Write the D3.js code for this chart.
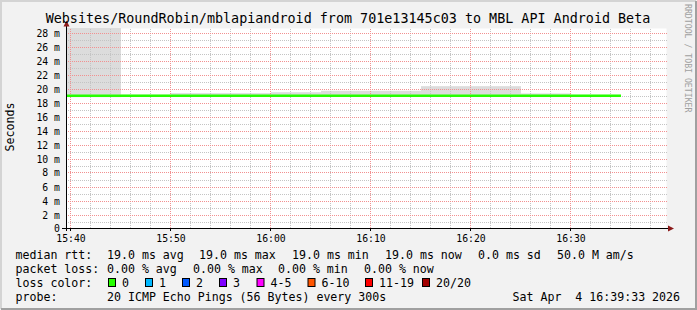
<!DOCTYPE html>
<html>
<head>
<meta charset="utf-8">
<script src="https://cdn.jsdelivr.net/npm/d3@7"></script>
<style>
    html, body { margin: 0; padding: 0; background: #f2f2f2; }
    svg { display: block; }
    text { font-family: "DejaVu Sans Mono", monospace; fill: #000; white-space: pre; }
</style>
</head>
<body>
<svg id="chart" width="697" height="310"></svg>
<script>
// 5 minute samples, each value covers the 5 minutes ending at that time
const stepEnds   = ['15:40', '15:45', '15:50', '15:55', '16:00', '16:05', '16:10', '16:15', '16:20', '16:25', '16:30', '16:35'];
const medianRtt  = [19.0, 19.0, 19.0, 19.0, 19.0, 19.0, 19.0, 19.0, 19.0, 19.0, 19.0, 19.0];
const smokeLow   = [18.76, 18.76, 18.88, 18.92, 18.92, 18.92, 18.92, 18.92, 18.92, 18.92, 18.78, 18.78];
const smokeHigh  = [29.0, 29.0, 19.12, 19.33, 19.33, 19.47, 19.67, 19.67, 20.33, 20.33, 19.29, 19.1];

const yTicks = [0, 2, 4, 6, 8, 10, 12, 14, 16, 18, 20, 22, 24, 26, 28];
const xTicks = ['15:40', '15:50', '16:00', '16:10', '16:20', '16:30'];

const lossLabels = ['0', '1', '2', '3', '4-5', '6-10', '11-19', '20/20'];
const lossColors = ['#26ff00', '#00b8ff', '#0059ff', '#7e00ff', '#ff00ff', '#ff5500', '#ff0000', '#a10000'];

const rttStats  = ['19.0 ms avg', '19.0 ms max', '19.0 ms min', '19.0 ms now', '0.0 ms sd', '50.0 M am/s'];
const lossStats = ['0.00 % avg', '0.00 % max', '0.00 % min', '0.00 % now'];

const title = 'Websites/RoundRobin/mblapiandroid from 701e13145c03 to MBL API Android Beta';
const probeText = '20 ICMP Echo Pings (56 Bytes) every 300s';
const dateText = 'Sat Apr  4 16:39:33 2026';

const W = 697, H = 310;
const plot = { left: 66.5, right: 666.5, top: 28.5, bottom: 228.5 };

const svg = d3.select('#chart');
const parseTime = d3.timeParse('%H:%M:%S');
const toTime = s => parseTime(s + ':00');

const x = d3.scaleTime()
    .domain([parseTime('15:39:36'), parseTime('16:39:36')])
    .range([plot.left, plot.right]);

const y = d3.scaleLinear()
    .domain([0, 200 / 7])
    .range([plot.bottom, plot.top]);

// frame
svg.append('rect').attr('width', W).attr('height', H).attr('fill', '#f2f2f2');
svg.append('path').attr('d', `M1,${H - 1}V1H${W - 1}`).attr('fill', 'none').attr('stroke', '#d4d4d4').attr('stroke-width', 2);
svg.append('path').attr('d', `M1,${H - 1}H${W - 1}V1`).attr('fill', 'none').attr('stroke', '#a0a0a0').attr('stroke-width', 2);

// canvas
svg.append('rect')
    .attr('x', plot.left).attr('y', plot.top)
    .attr('width', plot.right - plot.left).attr('height', plot.bottom - plot.top)
    .attr('fill', '#ffffff');

svg.append('clipPath').attr('id', 'plot-clip')
    .append('rect')
    .attr('x', plot.left + 0.5).attr('y', plot.top - 0.5)
    .attr('width', plot.right - plot.left).attr('height', plot.bottom - plot.top);

const samples = stepEnds.map((t, i) => ({
    end: toTime(t),
    start: d3.timeMinute.offset(toTime(t), -5),
    median: medianRtt[i],
    lo: smokeLow[i],
    hi: smokeHigh[i]
}));

// smoke
svg.append('g').attr('clip-path', 'url(#plot-clip)')
    .selectAll('rect')
    .data(samples)
    .enter().append('rect')
    .attr('x', d => x(d.start) + 0.5)
    .attr('width', d => x(d.end) - x(d.start))
    .attr('y', d => y(d.hi))
    .attr('height', d => y(d.lo) - y(d.hi))
    .attr('fill', '#dcdcdc');

// grid, dotted
const grid = svg.append('g')
    .attr('fill', 'none')
    .attr('stroke-dasharray', '1,1')
    .attr('shape-rendering', 'crispEdges');
const minorX = d3.timeMinute.every(2).range(x.domain()[0], x.domain()[1])
    .filter(d => d.getMinutes() % 10 !== 0);
const majorX = xTicks.map(toTime);
const minorColor = '#c4c4c4';
const majorColor = '#f29090';

grid.selectAll('.hminor')
    .data(d3.range(1, 29, 2))
    .enter().append('line')
    .attr('x1', plot.left + 1).attr('x2', plot.right)
    .attr('y1', d => Math.round(y(d)) + 0.5).attr('y2', d => Math.round(y(d)) + 0.5)
    .attr('stroke', minorColor);

grid.selectAll('.vminor')
    .data(minorX)
    .enter().append('line')
    .attr('x1', d => Math.floor(x(d)) + 0.5).attr('x2', d => Math.floor(x(d)) + 0.5)
    .attr('y1', plot.top).attr('y2', plot.bottom)
    .attr('stroke', minorColor);

grid.selectAll('.hmajor')
    .data(yTicks.slice(1))
    .enter().append('line')
    .attr('x1', plot.left + 1).attr('x2', plot.right + 1)
    .attr('y1', d => Math.round(y(d)) + 0.5).attr('y2', d => Math.round(y(d)) + 0.5)
    .attr('stroke', majorColor);

grid.selectAll('.vmajor')
    .data(majorX)
    .enter().append('line')
    .attr('x1', d => Math.floor(x(d)) + 0.5).attr('x2', d => Math.floor(x(d)) + 0.5)
    .attr('y1', plot.top).attr('y2', plot.bottom)
    .attr('stroke', majorColor);

// median line
const linePoints = samples.flatMap(d => [[d.start, d.median], [d.end, d.median]]);
svg.append('path')
    .attr('clip-path', 'url(#plot-clip)')
    .datum(linePoints)
    .attr('fill', 'none')
    .attr('stroke', lossColors[0])
    .attr('stroke-width', 2.5)
    .attr('d', d3.line().x(d => x(d[0]) + 0.5).y(d => y(d[1]) + 0.3));

// axes
const axis = svg.append('g');
axis.append('line')
    .attr('x1', plot.left).attr('x2', plot.left)
    .attr('y1', plot.bottom + 2.5).attr('y2', 24)
    .attr('stroke', '#000');
axis.append('line')
    .attr('x1', plot.left - 4.5).attr('x2', plot.right + 3)
    .attr('y1', plot.bottom).attr('y2', plot.bottom)
    .attr('stroke', '#000');
axis.append('path')
    .attr('d', `M${plot.left - 3},26.5L${plot.left},20.5L${plot.left + 3},26.5Z`)
    .attr('fill', '#8b1a1a');
axis.append('path')
    .attr('d', `M${plot.right + 1.5},${plot.bottom - 3}L${plot.right + 7.5},${plot.bottom}L${plot.right + 1.5},${plot.bottom + 3}Z`)
    .attr('fill', '#8b1a1a');

axis.selectAll('.xtick')
    .data(majorX)
    .enter().append('line')
    .attr('x1', d => Math.floor(x(d)) + 0.5).attr('x2', d => Math.floor(x(d)) + 0.5)
    .attr('y1', plot.bottom).attr('y2', plot.bottom + 2.5)
    .attr('stroke', '#000');

axis.selectAll('.ylabel')
    .data(yTicks)
    .enter().append('text')
    .attr('x', 60)
    .attr('y', d => Math.round(y(d)) + (d === 0 ? 3 : 3.5))
    .attr('text-anchor', 'end')
    .style('font-size', '9.8px')
    .text(d => d === 0 ? '0' : `${d} m`);

axis.selectAll('.xlabel')
    .data(xTicks)
    .enter().append('text')
    .attr('x', d => x(toTime(d)) + 0.5)
    .attr('y', 242)
    .attr('text-anchor', 'middle')
    .style('font-size', '9.8px')
    .text(d => d);

// title and side labels
svg.append('text')
    .attr('x', 348).attr('y', 23)
    .attr('text-anchor', 'middle')
    .style('font-size', '13.4px')
    .text(title);

svg.append('text')
    .attr('transform', 'translate(14,127) rotate(-90)')
    .attr('text-anchor', 'middle')
    .style('font-size', '11.6px')
    .text('Seconds');

svg.append('text')
    .attr('transform', 'translate(685,4) rotate(90)')
    .style('font-size', '8.2px')
    .style('fill', '#a0a0a0')
    .text('RRDTOOL / TOBI OETIKER');

// legend
const legend = svg.append('g').style('font-size', '11.6px');
const rows = [258.5, 272.5, 286.5, 300.5];
const rttX = [107, 199, 292, 385, 478, 557];
const lossX = [107, 193, 278, 364];

legend.append('text').attr('x', 15.5).attr('y', rows[0]).text('median rtt:');
legend.selectAll('.rtt').data(rttStats).enter().append('text')
    .attr('x', (d, i) => rttX[i]).attr('y', rows[0]).text(d => d);

legend.append('text').attr('x', 15.5).attr('y', rows[1]).text('packet loss:');
legend.selectAll('.loss').data(lossStats).enter().append('text')
    .attr('x', (d, i) => lossX[i]).attr('y', rows[1]).text(d => d);

legend.append('text').attr('x', 15.5).attr('y', rows[2]).text('loss color:');
const boxX = [108, 145, 182, 219, 256.5, 307.5, 365, 422];
const item = legend.selectAll('.lc').data(lossLabels).enter().append('g')
    .attr('transform', (d, i) => `translate(${boxX[i]},0)`);
item.append('rect')
    .attr('x', 0.5).attr('y', 278.5).attr('width', 7).attr('height', 8)
    .attr('fill', (d, i) => lossColors[i]).attr('stroke', '#000');
item.append('text').attr('x', 14).attr('y', rows[2]).text(d => d);

legend.append('text').attr('x', 15.5).attr('y', rows[3]).text('probe:');
legend.append('text').attr('x', 107).attr('y', rows[3]).text(probeText);
legend.append('text').attr('x', 512.5).attr('y', rows[3]).text(dateText);
</script>
</body>
</html>
